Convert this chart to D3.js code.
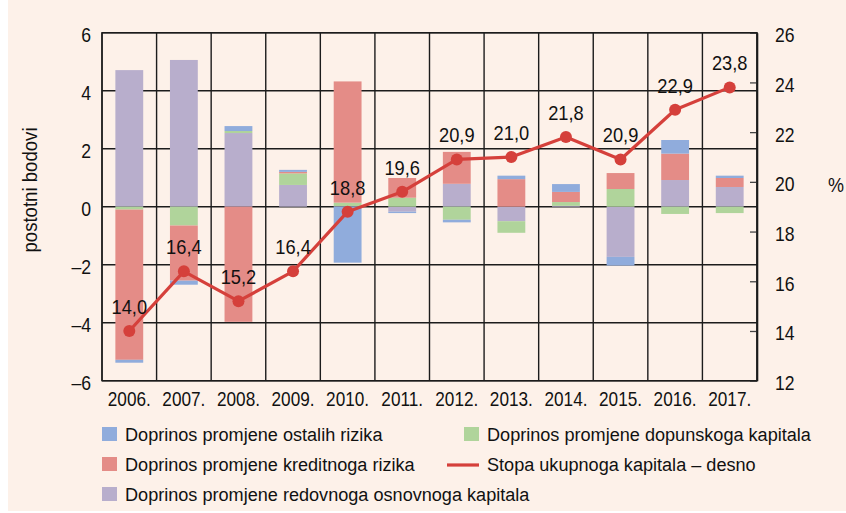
<!DOCTYPE html>
<html>
<head>
<meta charset="utf-8">
<script src="https://cdn.jsdelivr.net/npm/d3@7"></script>
<style>
  html, body { margin: 0; padding: 0; background: #ffffff; }
  svg { display: block; }
  text { font-family: "Liberation Sans", Arial, sans-serif; fill: #111; }
</style>
</head>
<body>
<svg id="chart" width="846" height="513"></svg>
<script>
// Years on the category axis
const years = ["2006.", "2007.", "2008.", "2009.", "2010.", "2011.", "2012.", "2013.", "2014.", "2015.", "2016.", "2017."];

// Contributions to the change of the capital ratio, in percentage points
const ostaliRizici   = [-0.10, -0.14, 0.17, 0.07, -1.93, -0.05, -0.09, 0.12, 0.27, -0.30, 0.47, 0.08];
const kreditniRizik  = [-5.18, -1.90, -3.97, 0.05, 4.18, 0.68, 1.10, 0.95, 0.35, 0.55, 0.91, 0.31];
const redovniKapital = [4.71, 5.06, 2.54, 0.75, 0.02, -0.17, 0.79, -0.50, 0.03, -1.73, 0.92, 0.68];
const dopunskiKapital = [-0.10, -0.65, 0.07, 0.40, 0.12, 0.31, -0.45, -0.40, 0.13, 0.61, -0.25, -0.22];

// Total capital ratio (right axis, %)
const stopaKapitala = [14.0, 16.4, 15.2, 16.4, 18.8, 19.6, 20.9, 21.0, 21.8, 20.9, 22.9, 23.8];

// Axis ticks
const leftTicks = [-6, -4, -2, 0, 2, 4, 6];
const rightTicks = [12, 14, 16, 18, 20, 22, 24, 26];

const seriesNames = {
  ostali: "Doprinos promjene ostalih rizika",
  kreditni: "Doprinos promjene kreditnoga rizika",
  redovni: "Doprinos promjene redovnoga osnovnoga kapitala",
  dopunski: "Doprinos promjene dopunskoga kapitala",
  stopa: "Stopa ukupnoga kapitala \u2013 desno"
};

const colors = {
  ostali: "#90acdc",
  kreditni: "#e48c87",
  redovni: "#b8aecc",
  dopunski: "#b0d49b",
  stopa: "#d5403b"
};

// Build rows for the stack
const rows = years.map((y, i) => ({
  year: y,
  redovni: redovniKapital[i],
  dopunski: dopunskiKapital[i],
  kreditni: kreditniRizik[i],
  ostali: ostaliRizici[i]
}));
const stackKeys = ["redovni", "dopunski", "kreditni", "ostali"];

// Narrow the glyphs horizontally around each text's own anchor point
function squeeze(sel, s) {
  sel.each(function () {
    const t = d3.select(this);
    const x0 = +t.attr("x") || 0;
    t.attr("transform", `matrix(${s},0,0,1,${x0 * (1 - s)},0)`);
  });
}

const svg = d3.select("#chart");
const W = 846, H = 513;

// Background panel
svg.append("rect").attr("x", 0).attr("y", 0).attr("width", W).attr("height", H).attr("fill", "#fdf1e9");
svg.append("rect").attr("x", 0).attr("y", 0).attr("width", 8).attr("height", H).attr("fill", "#ffffff");
svg.append("rect").attr("x", 0).attr("y", 511).attr("width", W).attr("height", 2).attr("fill", "#ffffff");

const plot = { left: 102, right: 757, top: 32.7, bottom: 380.7 };

const x = d3.scaleBand()
  .domain(years)
  .range([plot.left, plot.right])
  .paddingInner(0.49)
  .paddingOuter(0.245);

const yL = d3.scaleLinear().domain([-6, 6]).range([plot.bottom, plot.top]);
const yR = d3.scaleLinear().domain([12, 26]).range([plot.bottom, plot.top]);

const step = x.step();
const gap = (step - x.bandwidth()) / 2;

// Grid
const grid = svg.append("g").attr("stroke", "#1c1c1c").attr("stroke-width", 1.4).attr("fill", "none");
grid.selectAll("line.h").data(leftTicks).join("line")
  .attr("class", "h")
  .attr("x1", plot.left).attr("x2", plot.right)
  .attr("y1", d => yL(d)).attr("y2", d => yL(d));
const bounds = years.map(y => x(y) - gap).concat([x(years[years.length - 1]) + x.bandwidth() + gap]);
grid.selectAll("line.v").data(bounds).join("line")
  .attr("class", "v")
  .attr("x1", d => d).attr("x2", d => d)
  .attr("y1", plot.top).attr("y2", plot.bottom);

// Stacked bars
const stack = d3.stack().keys(stackKeys).offset(d3.stackOffsetDiverging);
const layers = stack(rows);

svg.append("g").selectAll("g").data(layers).join("g")
  .attr("fill", d => colors[d.key])
  .selectAll("rect").data(d => d).join("rect")
  .attr("x", d => x(d.data.year))
  .attr("width", x.bandwidth())
  .attr("y", d => yL(Math.max(d[0], d[1])))
  .attr("height", d => Math.abs(yL(d[0]) - yL(d[1])));

// Left axis
const axL = svg.append("g").attr("transform", `translate(${plot.left},0)`)
  .call(d3.axisLeft(yL).tickValues(leftTicks).tickSize(0).tickPadding(11)
    .tickFormat(d => d < 0 ? "\u2013" + Math.abs(d) : String(d)));
axL.select(".domain").remove();
axL.selectAll("text").attr("font-size", 20).attr("dy", "0.42em")
  .attr("font-family", "'Liberation Sans', Arial, sans-serif").attr("fill", "#111")
  .call(squeeze, 0.88);

// Right axis
const axR = svg.append("g").attr("transform", `translate(${plot.right},0)`)
  .call(d3.axisRight(yR).tickValues(rightTicks).tickSize(0).tickPadding(18).tickFormat(d3.format("d")));
axR.select(".domain").attr("stroke", "#1c1c1c").attr("stroke-width", 1.6);
axR.selectAll("text").attr("font-size", 20).attr("dy", "0.45em")
  .attr("font-family", "'Liberation Sans', Arial, sans-serif").attr("fill", "#111")
  .call(squeeze, 0.88);
axR.selectAll(".tick").append("line")
  .attr("x1", -7).attr("x2", 0).attr("y1", 0).attr("y2", 0)
  .attr("stroke", "#444").attr("stroke-width", 1.3);

// Bottom axis labels
const axB = svg.append("g").attr("transform", `translate(0,${plot.bottom})`)
  .call(d3.axisBottom(x).tickSize(0).tickPadding(10));
axB.select(".domain").remove();
axB.selectAll("text").attr("font-size", 20).attr("dy", "0.78em")
  .attr("font-family", "'Liberation Sans', Arial, sans-serif").attr("fill", "#111")
  .call(squeeze, 0.86);

// Outer frame
svg.append("rect")
  .attr("x", plot.left).attr("y", plot.top)
  .attr("width", plot.right - plot.left).attr("height", plot.bottom - plot.top)
  .attr("fill", "none").attr("stroke", "#1c1c1c").attr("stroke-width", 1.4);

// Axis titles
svg.append("text")
  .attr("transform", `translate(37,190) rotate(-90) scale(0.93,1)`)
  .attr("text-anchor", "middle")
  .attr("font-size", 20)
  .text("postotni bodovi");
svg.append("text")
  .attr("x", 828).attr("y", 192)
  .attr("font-size", 20)
  .text("%")
  .call(squeeze, 0.9);

// Capital ratio line
const cx = d => x(d) + x.bandwidth() / 2;
const lineData = years.map((y, i) => ({ year: y, v: stopaKapitala[i] }));
svg.append("path")
  .datum(lineData)
  .attr("fill", "none")
  .attr("stroke", colors.stopa)
  .attr("stroke-width", 3.2)
  .attr("stroke-linejoin", "round")
  .attr("d", d3.line().x(d => cx(d.year)).y(d => yR(d.v)));
svg.append("g").selectAll("circle").data(lineData).join("circle")
  .attr("cx", d => cx(d.year)).attr("cy", d => yR(d.v)).attr("r", 6)
  .attr("fill", colors.stopa);

const fmt = v => d3.format(".1f")(v).replace(".", ",");
svg.append("g").selectAll("text").data(lineData).join("text")
  .attr("x", d => cx(d.year)).attr("y", d => yR(d.v) - 17)
  .attr("text-anchor", "middle")
  .attr("font-size", 21)
  .text(d => fmt(d.v))
  .call(squeeze, 0.87);

// Legend
const legend = svg.append("g");
const boxItems = [
  { key: "ostali", x: 102, y: 441 },
  { key: "kreditni", x: 102, y: 471 },
  { key: "redovni", x: 102, y: 501 },
  { key: "dopunski", x: 464, y: 441 }
];
boxItems.forEach(it => {
  legend.append("rect").attr("x", it.x).attr("y", it.y - 14).attr("width", 15).attr("height", 14)
    .attr("fill", colors[it.key]);
  legend.append("text").attr("x", it.x + 23).attr("y", it.y).attr("font-size", 19)
    .text(seriesNames[it.key])
    .call(squeeze, 0.953);
});
legend.append("line").attr("x1", 447).attr("x2", 479).attr("y1", 465).attr("y2", 465)
  .attr("stroke", colors.stopa).attr("stroke-width", 3.2);
legend.append("text").attr("x", 487).attr("y", 471).attr("font-size", 19)
  .text(seriesNames.stopa)
  .call(squeeze, 0.953);
</script>
</body>
</html>
